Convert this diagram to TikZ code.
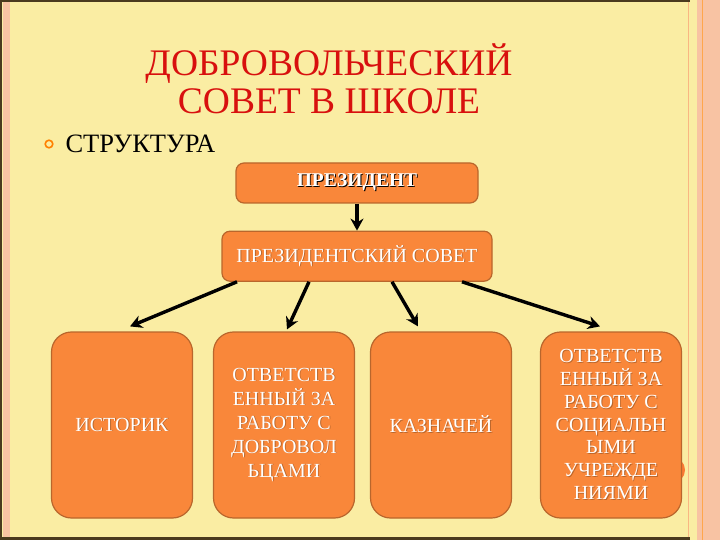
\documentclass[tikz,border=0pt]{standalone}
\usepackage{fontspec}
\setmainfont{Liberation Serif}
\usetikzlibrary{positioning, arrows.meta}

\definecolor{slide}{HTML}{FAEDA3}
\definecolor{stripe}{HTML}{F8C3A3}
\definecolor{frame}{HTML}{4A3A1E}
\definecolor{boxfill}{HTML}{F9873A}
\definecolor{boxline}{HTML}{B9662C}
\definecolor{titlered}{HTML}{D8100E}

% white letters with a small shadow
\newcommand{\embossed}[2]{\rlap{\kern0.9pt\raisebox{-0.9pt}{\color{#1}#2}}#2}

\begin{document}
\begin{tikzpicture}[x=1pt, y=-1pt, node distance=27pt,
    box/.style={draw=boxline, line width=1.2pt, fill=boxfill, rounded corners=8pt,
        text=white, align=center, inner sep=0pt, font=\fontsize{20}{24}\selectfont},
    role/.style={box, rounded corners=20pt, minimum width=141pt, minimum height=186pt},
    link/.style={-{Stealth[length=12pt,width=13pt]}, line width=3.4pt}]
    \useasboundingbox (0,0) rectangle (720,540);
    % slide background
    \fill[slide] (0,0) rectangle (720,540);
    \fill[stripe] (3,0) rectangle (10,540);
    \fill[stripe] (697,0) rectangle (720,540);
    \draw[stripe!80!orange, line width=1pt] (688,0) -- (688,540);
    \draw[orange!70, line width=0.8pt] (702,0) -- (702,540);
    \fill[frame] (0,0) rectangle (690,2);
    \fill[frame] (0,537) rectangle (690,540);
    \fill[frame] (0,0) rectangle (2,540);

    \node[text=titlered, align=center, font=\fontsize{37.5}{38}\selectfont] (title) at (329,79)
        {ДОБРОВОЛЬЧЕСКИЙ\\СОВЕТ В ШКОЛЕ};
    \draw[orange, line width=1.6pt] (49,144) circle (3.8);
    \node[anchor=west, font=\fontsize{26.5}{30}\selectfont] (structure) at (62,144) {СТРУКТУРА};

    \node[box, minimum width=242pt, minimum height=40pt, font=\fontsize{19.5}{22}\bfseries] (president) at (357,183)
        {\embossed{black}{ПРЕЗИДЕНТ}};
    \node[box, minimum width=270pt, minimum height=50pt, below=27pt of president] (council)
        {\embossed{boxline}{ПРЕЗИДЕНТСКИЙ СОВЕТ}};

    \fill[boxfill!90!red] (672,470) circle (13);
    \node[role] (historian) at (122,425) {\embossed{boxline}{ИСТОРИК}};
    \node[role] (volunteers) at (284,425)
        {\embossed{boxline}{ОТВЕТСТВ}\\\embossed{boxline}{ЕННЫЙ ЗА}\\\embossed{boxline}{РАБОТУ С}\\\embossed{boxline}{ДОБРОВОЛ}\\\embossed{boxline}{ЬЦАМИ}};
    \node[role] (treasurer) at (441,425) {\embossed{boxline}{КАЗНАЧЕЙ}};
    \node[role, font=\fontsize{20}{22.8}\selectfont] (social) at (611,425)
        {\embossed{boxline}{ОТВЕТСТВ}\\\embossed{boxline}{ЕННЫЙ ЗА}\\\embossed{boxline}{РАБОТУ С}\\\embossed{boxline}{СОЦИАЛЬН}\\\embossed{boxline}{ЫМИ}\\\embossed{boxline}{УЧРЕЖДЕ}\\\embossed{boxline}{НИЯМИ}};

    \draw[link] (president) -- (council);
    \draw[link] ([xshift=-120pt]council.south) -- ([xshift=8pt,yshift=5pt]historian.north);
    \draw[link] ([xshift=-48pt]council.south) -- ([xshift=3pt,yshift=2pt]volunteers.north);
    \draw[link] ([xshift=35pt]council.south) -- ([xshift=-23pt,yshift=5pt]treasurer.north);
    \draw[link] ([xshift=105pt]council.south) -- ([xshift=-11pt,yshift=5pt]social.north);
\end{tikzpicture}
\end{document}
